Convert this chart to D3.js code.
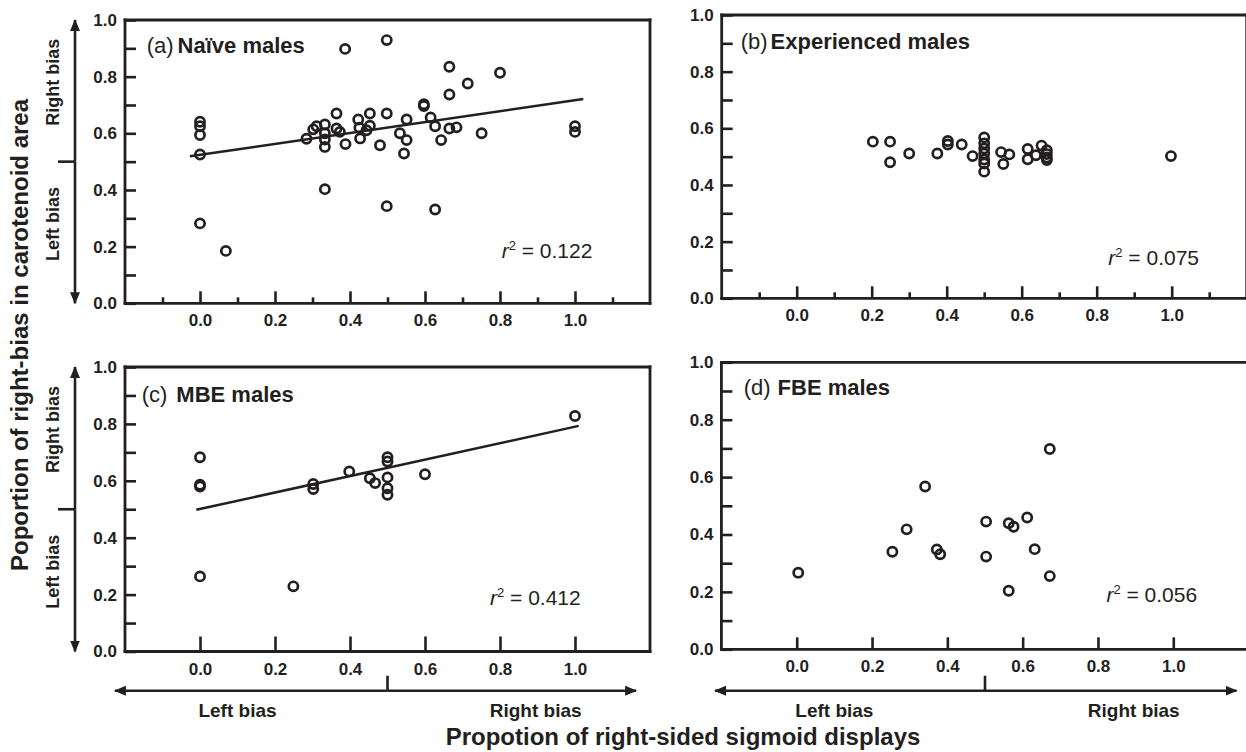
<!DOCTYPE html>
<html>
<head>
<meta charset="utf-8">
<script src="https://cdn.jsdelivr.net/npm/d3@7"></script>
<style>
body { margin: 0; background: #fff; }
svg { font-family: "Liberation Sans", Arial, sans-serif; }
.tick text { font-size: 17px; font-weight: bold; fill: #231f20; }
.tick line { stroke: #231f20; stroke-width: 2.6; }
</style>
</head>
<body>
<script>
var ink = "#231f20";

var xMajor = [0, 0.2, 0.4, 0.6, 0.8, 1.0];
var xMinor = [-0.1, 0.1, 0.3, 0.5, 0.7, 0.9, 1.1];
var yMajor = [0, 0.2, 0.4, 0.6, 0.8, 1.0];
var yMinor = [0.1, 0.3, 0.5, 0.7, 0.9];

// (a) naive males
var naiveX = [0, 0, 0, 0, 0, 0.069, 0.387, 0.498, 0.333, 0.498,
  0.284, 0.302, 0.311, 0.333, 0.333, 0.333, 0.333, 0.364, 0.364, 0.373,
  0.388, 0.422, 0.425, 0.427, 0.453, 0.453, 0.444, 0.480, 0.498, 0.533,
  0.551, 0.551, 0.544, 0.597, 0.597, 0.615, 0.627, 0.643, 0.627, 0.665,
  0.665, 0.665, 0.684, 0.714, 0.751, 0.800, 1.0, 1.0];
var naiveY = [0.641, 0.625, 0.594, 0.525, 0.282, 0.185, 0.898, 0.929, 0.403, 0.343,
  0.581, 0.614, 0.625, 0.631, 0.600, 0.578, 0.552, 0.670, 0.617, 0.605,
  0.562, 0.649, 0.620, 0.582, 0.670, 0.627, 0.611, 0.558, 0.670, 0.600,
  0.649, 0.576, 0.529, 0.703, 0.696, 0.656, 0.625, 0.576, 0.331, 0.835,
  0.737, 0.617, 0.621, 0.776, 0.600, 0.814, 0.625, 0.605];
var naiveFitX = [-0.027, 1.022];
var naiveFitY = [0.519, 0.721];

// (b) experienced males
var expX = [0.203, 0.249, 0.249, 0.300, 0.375, 0.403, 0.403, 0.440, 0.469, 0.5,
  0.5, 0.5, 0.5, 0.5, 0.5, 0.5, 0.545, 0.551, 0.567, 0.616,
  0.616, 0.638, 0.653, 0.667, 0.667, 0.667, 0.667, 0.998];
var expY = [0.553, 0.553, 0.480, 0.511, 0.511, 0.555, 0.543, 0.543, 0.502, 0.568,
  0.547, 0.529, 0.511, 0.490, 0.476, 0.447, 0.516, 0.474, 0.508, 0.527,
  0.491, 0.505, 0.539, 0.523, 0.509, 0.497, 0.488, 0.502];

// (c) MBE males
var mbeX = [0, 0, 0, 0, 0.249, 0.302, 0.302, 0.398, 0.453, 0.467,
  0.5, 0.5, 0.5, 0.5, 0.5, 0.6, 1.0];
var mbeY = [0.683, 0.586, 0.580, 0.264, 0.229, 0.589, 0.571, 0.633, 0.609, 0.592,
  0.683, 0.668, 0.612, 0.574, 0.551, 0.623, 0.828];
var mbeFitX = [-0.01, 1.01];
var mbeFitY = [0.498, 0.793];

// (d) FBE males
var fbeX = [0.004, 0.254, 0.292, 0.341, 0.372, 0.381, 0.503, 0.503, 0.563, 0.576,
  0.612, 0.632, 0.563, 0.672, 0.672];
var fbeY = [0.267, 0.340, 0.418, 0.567, 0.348, 0.331, 0.445, 0.323, 0.439, 0.427,
  0.459, 0.349, 0.204, 0.698, 0.255];

var panelTags = ["(a)", "(b)", "(c)", "(d)"];
var panelNames = ["Naïve males", "Experienced males", "MBE males", "FBE males"];
var r2Values = ["0.122", "0.075", "0.412", "0.056"];

var panels = [
  {xs: naiveX, ys: naiveY, fitX: naiveFitX, fitY: naiveFitY,
   left: 125, right: 650, bottom: 303.3, top: 20, border: true, minor: true, tickLen: 12,
   tagDx: 21.7, tagDy: 33.3, nameGap: 4, r2Dx: 376.7, r2Dy: 45.3},
  {xs: expX, ys: expY,
   left: 721.7, right: 1246.7, bottom: 298.3, top: 15, border: true, minor: true, tickLen: 12,
   tagDx: 19, tagDy: 34, nameGap: 3, r2Dx: 386.6, r2Dy: 33.3},
  {xs: mbeX, ys: mbeY, fitX: mbeFitX, fitY: mbeFitY,
   left: 125, right: 650, bottom: 651.5, top: 367, border: true, minor: false, tickLen: 15,
   tagDx: 16.7, tagDy: 34.7, nameGap: 9, r2Dx: 365, r2Dy: 46.5},
  {xs: fbeX, ys: fbeY,
   left: 721.4, right: 1248.6, bottom: 649.3, top: 362.3, border: false, minor: false, tickLen: 12,
   tagDx: 22.3, tagDy: 32.7, nameGap: 7, r2Dx: 385, r2Dy: 47.6}
];

var svg = d3.select("body").append("svg")
  .attr("width", 1246)
  .attr("height", 752);

var defs = svg.append("defs");
defs.append("marker")
  .attr("id", "head")
  .attr("markerUnits", "userSpaceOnUse")
  .attr("viewBox", "0 -5 12 10")
  .attr("refX", 11).attr("refY", 0)
  .attr("markerWidth", 12).attr("markerHeight", 10)
  .attr("orient", "auto-start-reverse")
  .append("path")
  .attr("d", "M0,-5L12,0L0,5Z")
  .attr("fill", ink);

var fmt = d3.format(".1f");

panels.forEach(function(p, i) {
  var x = d3.scaleLinear().domain([-0.2, 1.2]).range([p.left, p.right]);
  var y = d3.scaleLinear().domain([0, 1]).range([p.bottom, p.top]);
  p.x = x; p.y = y;

  var g = svg.append("g");

  // x ticks (inward)
  g.append("g")
    .attr("transform", "translate(0," + p.bottom + ")")
    .call(d3.axisBottom(x).tickValues(xMajor).tickSize(-p.tickLen)
      .tickSizeOuter(0).tickPadding(11).tickFormat(fmt))
    .call(function(s) { s.select(".domain").remove(); });
  if (p.minor) {
    g.append("g")
      .attr("transform", "translate(0," + p.bottom + ")")
      .call(d3.axisBottom(x).tickValues(xMinor).tickSize(-6).tickFormat(""))
      .call(function(s) { s.select(".domain").remove(); });
  }

  // y ticks (inward)
  g.append("g")
    .attr("transform", "translate(" + p.left + ",0)")
    .call(d3.axisLeft(y).tickValues(yMajor).tickSize(-11)
      .tickSizeOuter(0).tickPadding(8).tickFormat(fmt))
    .call(function(s) { s.select(".domain").remove(); });
  g.append("g")
    .attr("transform", "translate(" + p.left + ",0)")
    .call(d3.axisLeft(y).tickValues(yMinor).tickSize(-11).tickFormat(""))
    .call(function(s) { s.select(".domain").remove(); });

  // frame
  var frame = [[p.left, p.top, p.right, p.top], [p.left, p.bottom, p.right, p.bottom],
               [p.left, p.top, p.left, p.bottom]];
  if (p.border) frame.push([p.right, p.top, p.right, p.bottom]);
  g.selectAll(".frame").data(frame).enter().append("line")
    .attr("x1", function(d) { return d[0]; })
    .attr("y1", function(d) { return d[1]; })
    .attr("x2", function(d) { return d[2]; })
    .attr("y2", function(d) { return d[3]; })
    .attr("stroke", ink)
    .attr("stroke-width", 2.8)
    .attr("stroke-linecap", "square");

  // regression line
  if (p.fitX) {
    var fit = d3.line()
      .x(function(d) { return x(d[0]); })
      .y(function(d) { return y(d[1]); });
    g.append("path")
      .datum(d3.zip(p.fitX, p.fitY))
      .attr("d", fit)
      .attr("fill", "none")
      .attr("stroke", ink)
      .attr("stroke-width", 2.5);
  }

  // points
  g.selectAll(".pt").data(d3.zip(p.xs, p.ys)).enter().append("circle")
    .attr("cx", function(d) { return x(d[0]); })
    .attr("cy", function(d) { return y(d[1]); })
    .attr("r", 4.6)
    .attr("fill", "none")
    .attr("stroke", ink)
    .attr("stroke-width", 2.7);

  // panel title
  var title = g.append("text")
    .attr("x", p.left + p.tagDx)
    .attr("y", p.top + p.tagDy)
    .attr("fill", ink)
    .style("font-size", "22px");
  title.append("tspan").text(panelTags[i]);
  title.append("tspan").attr("dx", p.nameGap)
    .style("font-weight", "bold").text(panelNames[i]);

  // r squared
  var r2 = g.append("text")
    .attr("x", p.left + p.r2Dx)
    .attr("y", p.bottom - p.r2Dy)
    .attr("fill", ink)
    .style("font-size", "21px");
  r2.append("tspan").style("font-style", "italic").text("r");
  r2.append("tspan").attr("dy", -8).style("font-size", "13px").text("2");
  r2.append("tspan").attr("dy", 8).text(" = " + r2Values[i]);
});

// vertical bias arrows on the left panels
[panels[0], panels[2]].forEach(function(p) {
  var ax = 75;
  svg.append("line")
    .attr("x1", ax).attr("x2", ax)
    .attr("y1", p.y(0.5)).attr("y2", p.y(1))
    .attr("stroke", ink).attr("stroke-width", 2.6)
    .attr("marker-end", "url(#head)");
  svg.append("line")
    .attr("x1", ax).attr("x2", ax)
    .attr("y1", p.y(0.5)).attr("y2", p.y(0))
    .attr("stroke", ink).attr("stroke-width", 2.6)
    .attr("marker-end", "url(#head)");
  svg.append("line")
    .attr("x1", 58).attr("x2", ax)
    .attr("y1", p.y(0.5)).attr("y2", p.y(0.5))
    .attr("stroke", ink).attr("stroke-width", 2.6);
  [["Right bias", 0.78], ["Left bias", 0.28]].forEach(function(t) {
    svg.append("text")
      .attr("transform", "translate(59," + p.y(t[1]) + ") rotate(-90)")
      .attr("text-anchor", "middle")
      .attr("fill", ink)
      .style("font-size", "18px")
      .style("font-weight", "bold")
      .text(t[0]);
  });
});

// horizontal bias arrows under the bottom panels
[[panels[2], -0.227, 1.163], [panels[3], -0.217, 1.168]].forEach(function(a) {
  var p = a[0], ay = 690.7;
  svg.append("line")
    .attr("x1", p.x(0.5)).attr("x2", p.x(a[1]))
    .attr("y1", ay).attr("y2", ay)
    .attr("stroke", ink).attr("stroke-width", 2.6)
    .attr("marker-end", "url(#head)");
  svg.append("line")
    .attr("x1", p.x(0.5)).attr("x2", p.x(a[2]))
    .attr("y1", ay).attr("y2", ay)
    .attr("stroke", ink).attr("stroke-width", 2.6)
    .attr("marker-end", "url(#head)");
  svg.append("line")
    .attr("x1", p.x(0.5)).attr("x2", p.x(0.5))
    .attr("y1", ay - 15).attr("y2", ay)
    .attr("stroke", ink).attr("stroke-width", 2.6);
  [["Left bias", 0.1], ["Right bias", 0.895]].forEach(function(t) {
    svg.append("text")
      .attr("x", p.x(t[1]))
      .attr("y", 717)
      .attr("text-anchor", "middle")
      .attr("fill", ink)
      .style("font-size", "19px")
      .style("font-weight", "bold")
      .text(t[0]);
  });
});

// axis titles
svg.append("text")
  .attr("x", 683)
  .attr("y", 745)
  .attr("text-anchor", "middle")
  .attr("fill", ink)
  .style("font-size", "24px")
  .style("font-weight", "bold")
  .text("Propotion of right-sided sigmoid displays");

svg.append("text")
  .attr("transform", "translate(28,335) rotate(-90)")
  .attr("text-anchor", "middle")
  .attr("fill", ink)
  .style("font-size", "24px")
  .style("font-weight", "bold")
  .text("Poportion of right-bias in carotenoid area");
</script>
</body>
</html>
